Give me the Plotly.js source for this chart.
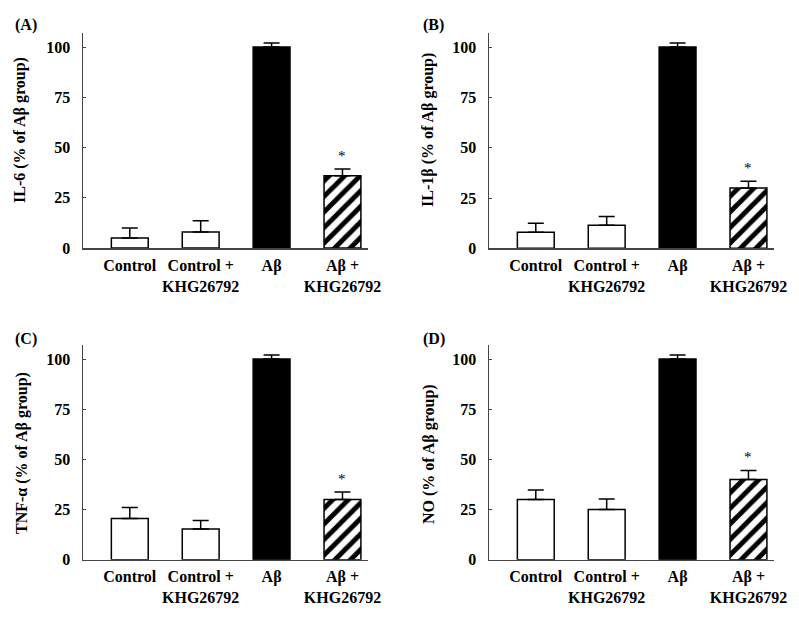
<!DOCTYPE html>
<html>
<head>
<meta charset="utf-8">
<script src="https://cdn.plot.ly/plotly-3.0.1.min.js"></script>
<style>html,body{margin:0;padding:0;background:#fff;}#chart{width:799px;height:617px;}</style>
</head>
<body>
<div id="chart"></div>
<script>
// ---- data ----
const categories = ['Control', 'Control +<br>KHG26792', 'Aβ', 'Aβ +<br>KHG26792'];
const panelLabels = ['(A)', '(B)', '(C)', '(D)'];
const yTitles = ['IL-6 (% of Aβ group)', 'IL-1β (% of Aβ group)', 'TNF-α (% of Aβ group)', 'NO (% of Aβ group)'];
const il6Values   = [5, 8, 100, 36];
const il6Errors   = [5, 5.5, 2, 3.3];
const il1bValues  = [8, 11.5, 100, 30];
const il1bErrors  = [4.5, 4.3, 2, 3.3];
const tnfaValues  = [20.5, 15.3, 100, 30];
const tnfaErrors  = [5.5, 4.2, 2, 3.7];
const noValues    = [30, 25, 100, 40];
const noErrors    = [4.7, 5.3, 2, 4.5];
const significant = [false, false, false, true];
const hatched     = [false, false, false, true];
const barFill     = ['#ffffff', '#ffffff', '#000000', '#ffffff'];
const yTickVals = [0, 25, 50, 75, 100];

const seriesValues = [il6Values, il1bValues, tnfaValues, noValues];
const seriesErrors = [il6Errors, il1bErrors, tnfaErrors, noErrors];

// ---- layout geometry (pixels) ----
const W = 799, H = 617;
const px = (x) => x / W;
const py = (y) => 1 - y / H;
const panels = [
  {x0: 83,  x1: 368, yBot: 248,   yTop: 33,  labX: 13,  labY: 25,  titX: 20,  titY: 130},
  {x0: 489, x1: 774, yBot: 248.3, yTop: 33,  labX: 421, labY: 25,  titX: 428, titY: 130},
  {x0: 83,  x1: 368, yBot: 559.7, yTop: 345, labX: 13,  labY: 339, titX: 22,  titY: 453},
  {x0: 489, x1: 774, yBot: 559.7, yTop: 345, labX: 421, labY: 339, titX: 429, titY: 454}
];

const FONT = 'Liberation Serif, Times New Roman, serif';
const traces = [];
const layout = {
  width: W, height: H,
  margin: {l: 0, r: 0, t: 0, b: 0},
  paper_bgcolor: '#fff', plot_bgcolor: '#fff',
  showlegend: false,
  barmode: 'overlay',
  font: {family: FONT, size: 16, color: '#000'},
  annotations: []
};

panels.forEach((p, i) => {
  const n = i + 1;
  const xa = n === 1 ? 'x' : 'x' + n;
  const ya = n === 1 ? 'y' : 'y' + n;
  const vals = seriesValues[i];
  const errs = seriesErrors[i];
  const pick = (arr, h) => arr.filter((_, j) => hatched[j] === h);
  [false, true].forEach((h) => {
    const marker = {
      color: h ? '#ffffff' : pick(barFill, h),
      line: {color: '#000', width: 1.5}
    };
    if (h) {
      marker.pattern = {shape: '/', fgcolor: '#000', bgcolor: '#fff', size: 11, solidity: 0.45, fillmode: 'replace'};
    }
    const e = pick(errs, h);
    traces.push({
      type: 'bar',
      x: pick(categories, h),
      y: pick(vals, h),
      xaxis: xa, yaxis: ya,
      width: 0.52,
      marker: marker,
      error_y: {
        type: 'data', symmetric: false,
        array: e, arrayminus: e.map(() => 0),
        color: '#000', thickness: 1.5, width: 8
      },
      hoverinfo: 'skip'
    });
  });
  const axKey = n === 1 ? '' : n;
  layout['xaxis' + axKey] = {
    domain: [px(p.x0), px(p.x1)],
    anchor: ya,
    type: 'category',
    categoryorder: 'array', categoryarray: categories,
    range: [-0.66, 3.36],
    showline: true, linecolor: '#444', linewidth: 1.5,
    showgrid: false, zeroline: false,
    ticks: '',
    ticklabelstandoff: 2,
    tickfont: {family: FONT, size: 16, weight: 'bold', color: '#000'},
    fixedrange: true
  };
  layout['yaxis' + axKey] = {
    domain: [py(p.yBot), py(p.yTop)],
    anchor: xa,
    range: [0, 107],
    tickvals: yTickVals,
    ticktext: yTickVals.map(String),
    showline: true, linecolor: '#444', linewidth: 1.5,
    showgrid: false, zeroline: false,
    ticks: 'inside', ticklen: 3, tickcolor: '#444', tickwidth: 1,
    ticklabelstandoff: 8,
    tickfont: {family: FONT, size: 16, weight: 'bold', color: '#000'},
    fixedrange: true
  };
  layout.annotations.push({
    xref: 'paper', yref: 'paper', x: px(p.labX), y: py(p.labY),
    xanchor: 'left', yanchor: 'middle', showarrow: false,
    text: panelLabels[i],
    font: {family: FONT, size: 16, weight: 'bold', color: '#000'}
  });
  layout.annotations.push({
    xref: 'paper', yref: 'paper', x: px(p.titX), y: py(p.titY),
    xanchor: 'center', yanchor: 'middle', showarrow: false,
    textangle: -90,
    text: yTitles[i],
    font: {family: FONT, size: 16, weight: 'bold', color: '#000'}
  });
  categories.forEach((c, j) => {
    if (!significant[j]) return;
    layout.annotations.push({
      xref: xa, yref: ya, x: c, y: vals[j] + errs[j],
      xanchor: 'center', yanchor: 'bottom', yshift: 3, showarrow: false,
      text: '*',
      font: {family: FONT, size: 15, color: '#000'}
    });
  });
});

Plotly.newPlot('chart', traces, layout, {staticPlot: true});
</script>
</body>
</html>
